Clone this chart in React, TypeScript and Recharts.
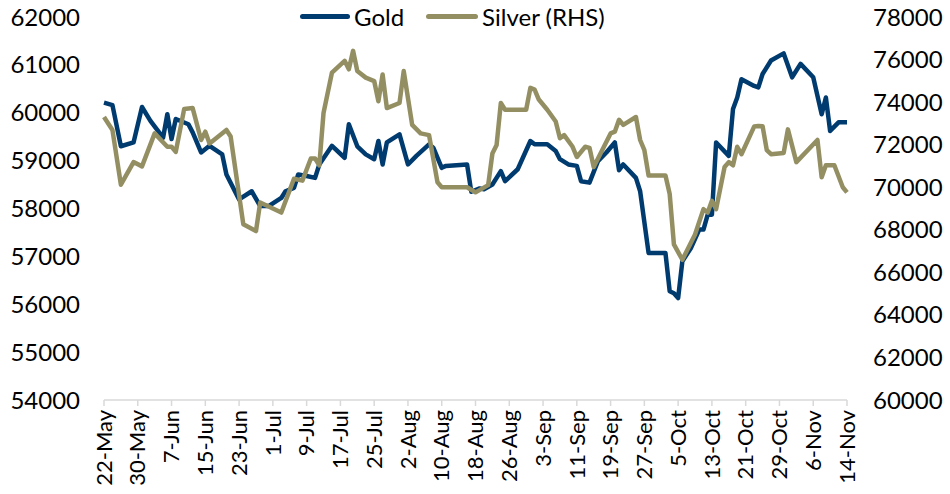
import { LineChart, Line, XAxis, YAxis, Legend } from "recharts";

const tickLabels = [
  "22-May", "30-May", "7-Jun", "15-Jun", "23-Jun", "1-Jul", "9-Jul", "17-Jul",
  "25-Jul", "2-Aug", "10-Aug", "18-Aug", "26-Aug", "3-Sep", "11-Sep", "19-Sep",
  "27-Sep", "5-Oct", "13-Oct", "21-Oct", "29-Oct", "6-Nov", "14-Nov",
];

// day offsets from 22-May where the lines change direction
const goldDays = [
  0, 2, 4, 7, 9, 11, 14, 15, 16, 17, 20, 21, 23, 25, 28, 29, 32, 35, 37, 39,
  42, 43, 45, 46, 48, 50, 51, 54, 57, 58, 60, 62, 64, 65, 66, 67, 70, 72, 74, 77,
  78, 80, 81, 86, 87, 89, 90, 92, 94, 95, 98, 101, 102, 105, 107, 108, 110, 112, 113, 115,
  117, 119, 121, 122, 123, 126, 127, 129, 133, 134, 135, 136, 137, 139, 141, 142, 143, 144, 145, 148,
  149, 150, 151, 154, 155, 156, 158, 161, 163, 165, 168, 170, 171, 172, 174, 176,
];
const goldPrice = [
  60210, 60160, 59300, 59380, 60120, 59830, 59480, 59970, 59450, 59870, 59760, 59590, 59170, 59310, 59130, 58710, 58190, 58360, 58050, 58050,
  58220, 58360, 58430, 58710, 58680, 58640, 58920, 59310, 59060, 59760, 59300, 59130, 59030, 59410, 58920, 59380, 59550, 58920, 59100, 59340,
  59270, 58850, 58890, 58920, 58350, 58420, 58400, 58500, 58780, 58570, 58820, 59410, 59340, 59340, 59200, 59030, 58920, 58890, 58570, 58540,
  58990, 59170, 59380, 58800, 58920, 58640, 58360, 57070, 57070, 56270, 56230, 56130, 56900, 57170, 57560, 57560, 57870, 57870, 59380, 59100,
  60080, 60320, 60700, 60560, 60530, 60810, 61090, 61240, 60740, 61020, 60740, 59970, 60320, 59620, 59800, 59800,
];

const silverDays = [
  0, 2, 4, 7, 9, 12, 15, 16, 17, 19, 21, 23, 24, 25, 29, 30, 33, 36, 37, 42,
  45, 47, 49, 50, 51, 52, 54, 57, 58, 59, 60, 62, 64, 65, 66, 67, 70, 71, 73, 75,
  77, 79, 80, 86, 88, 91, 92, 93, 94, 95, 100, 101, 102, 103, 105, 107, 108, 109, 111, 112,
  114, 115, 116, 118, 120, 121, 122, 123, 126, 127, 128, 129, 133, 134, 135, 137, 140, 142, 143, 144,
  145, 147, 148, 149, 150, 151, 154, 155, 156, 157, 158, 161, 162, 164, 169, 170, 171, 173, 175, 176,
];
const silverPrice = [
  73300, 72690, 70120, 71180, 70980, 72530, 71900, 71900, 71660, 73680, 73720, 72220, 72610, 72060, 72690, 72380, 68260, 67940, 69280, 68810,
  70400, 70310, 71350, 71350, 71030, 73490, 75390, 75940, 75540, 76410, 75460, 75150, 74990, 74040, 75300, 73720, 73960, 75460, 72930, 72530,
  72450, 70230, 70000, 70000, 69760, 70100, 71580, 71980, 73960, 73640, 73640, 74670, 74590, 74120, 73640, 73090, 72300, 72450, 71900, 71420,
  71900, 71850, 70950, 71740, 72530, 72610, 73170, 72930, 73300, 72220, 71740, 70550, 70550, 69680, 67310, 66590, 67780, 68970, 68810, 69360,
  68970, 70950, 71180, 71030, 71900, 71550, 72850, 72880, 72870, 71740, 71550, 71610, 72720, 71180, 72220, 70470, 71030, 71030, 70000, 69760,
];

const leftTicks = [54000, 55000, 56000, 57000, 58000, 59000, 60000, 61000, 62000];
const rightTicks = [60000, 62000, 64000, 66000, 68000, 70000, 72000, 74000, 76000, 78000];

const GOLD = "#003B70";
const SILVER = "#948F63";

const goldData = goldDays.map((day, i) => ({ day, gold: goldPrice[i] }));
const silverData = silverDays.map((day, i) => ({ day, silver: silverPrice[i] }));
const tickDays = tickLabels.map((_, i) => i * 8);

const DateTick = (props: any) => {
  const { x, y, payload } = props;
  return (
    <text
      x={x}
      y={y + 2}
      transform={`rotate(-90, ${x}, ${y + 2})`}
      textAnchor="end"
      dy="0.35em"
      fontSize={22}
      fill="#000"
    >
      {tickLabels[payload.index] ?? tickLabels[tickDays.indexOf(payload.value)]}
    </text>
  );
};

const LegendBox = () => (
  <div style={{ display: "flex", alignItems: "center", fontSize: 24, color: "#000" }}>
    <span style={{ width: 50, height: 5, background: GOLD, borderRadius: 3, marginRight: 4 }} />
    <span style={{ marginRight: 22 }}>Gold</span>
    <span style={{ width: 52, height: 5, background: SILVER, borderRadius: 3, marginRight: 4 }} />
    <span>Silver (RHS)</span>
  </div>
);

export default function App() {
  return (
    <div style={{ position: "absolute", left: 0, top: 0, fontFamily: "Lato" }}>
      <LineChart width={950} height={494} margin={{ top: 17, right: 0, bottom: 0, left: 0 }}>
        <XAxis
          type="number"
          dataKey="day"
          domain={[0, 176]}
          ticks={tickDays}
          interval={0}
          height={94}
          stroke="#d9d9d9"
          strokeWidth={1.5}
          tickSize={6}
          tick={<DateTick />}
        />
        <YAxis
          yAxisId="left"
          orientation="left"
          domain={[54000, 62000]}
          ticks={leftTicks}
          width={104}
          axisLine={false}
          tickLine={false}
          tickMargin={18}
          tick={{ fontSize: 24, fill: "#000" }}
        />
        <YAxis
          yAxisId="right"
          orientation="right"
          domain={[60000, 78000]}
          ticks={rightTicks}
          width={103}
          axisLine={false}
          tickLine={false}
          tickMargin={20}
          tick={{ fontSize: 24, fill: "#000", textAnchor: "start" }}
        />
        <Legend
          layout="horizontal"
          verticalAlign="middle"
          align="center"
          wrapperStyle={{ top: 2, left: 300, width: "auto" }}
          content={<LegendBox />}
        />
        <Line
          data={goldData}
          dataKey="gold"
          name="Gold"
          yAxisId="left"
          type="linear"
          stroke={GOLD}
          strokeWidth={4.5}
          strokeLinejoin="round"
          dot={false}
          activeDot={false}
          isAnimationActive={false}
        />
        <Line
          data={silverData}
          dataKey="silver"
          name="Silver (RHS)"
          yAxisId="right"
          type="linear"
          stroke={SILVER}
          strokeWidth={4.5}
          strokeLinejoin="round"
          dot={false}
          activeDot={false}
          isAnimationActive={false}
        />
      </LineChart>
    </div>
  );
}
